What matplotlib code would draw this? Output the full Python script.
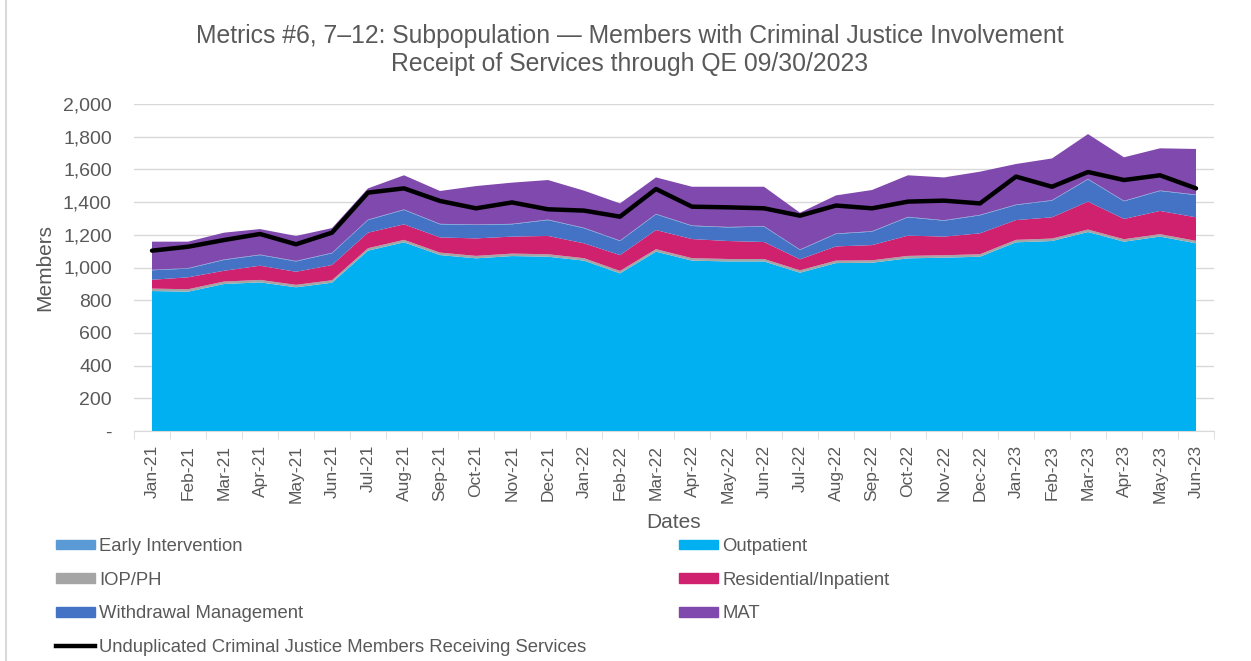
import numpy as np
import matplotlib.pyplot as plt
from matplotlib.lines import Line2D
from matplotlib.patches import Patch

plt.rcParams['font.family'] = ['Liberation Sans', 'DejaVu Sans']

months = ['Jan-21', 'Feb-21', 'Mar-21', 'Apr-21', 'May-21', 'Jun-21', 'Jul-21', 'Aug-21',
          'Sep-21', 'Oct-21', 'Nov-21', 'Dec-21', 'Jan-22', 'Feb-22', 'Mar-22', 'Apr-22',
          'May-22', 'Jun-22', 'Jul-22', 'Aug-22', 'Sep-22', 'Oct-22', 'Nov-22', 'Dec-22',
          'Jan-23', 'Feb-23', 'Mar-23', 'Apr-23', 'May-23', 'Jun-23']

outpatient = [856, 852, 899, 909, 879, 907, 1103, 1154, 1076, 1056, 1070, 1066, 1042, 964, 1097,
              1042, 1037, 1037, 968, 1027, 1029, 1056, 1060, 1066, 1154, 1162, 1217, 1158, 1189, 1148]
iop_ph = [15] * 30
residential = [54, 73, 66, 87, 80, 93, 95, 95, 93, 107, 104, 112, 91, 97, 117,
               117, 110, 104, 67, 87, 93, 124, 114, 128, 121, 130, 171, 124, 142, 144]
withdrawal = [58, 53, 66, 65, 63, 72, 77, 88, 80, 82, 75, 97, 92, 86, 96,
              80, 83, 94, 57, 76, 82, 112, 97, 110, 92, 102, 136, 108, 122, 136]
early_int = [3] * 30
mat = [172, 162, 164, 156, 153, 151, 191, 209, 201, 235, 252, 242, 227, 227, 223,
       237, 246, 241, 225, 233, 252, 254, 262, 264, 248, 255, 274, 266, 258, 279]
unduplicated = [1103, 1127, 1168, 1205, 1142, 1213, 1458, 1484, 1407, 1362, 1398, 1356, 1348, 1311, 1480,
                1372, 1368, 1362, 1317, 1379, 1362, 1403, 1409, 1392, 1556, 1494, 1584, 1535, 1564, 1484]

c_op = '#00B0F0'
c_iop = '#A5A5A5'
c_res = '#D0216F'
c_wm = '#4472C4'
c_ei = '#5B9BD5'
c_mat = '#8049AD'
txt = '#595959'

fig = plt.figure(figsize=(12.51, 6.61), dpi=100)
ax = fig.add_axes([134 / 1251, 1 - 431 / 661, 1080 / 1251, 327 / 661])

x = np.arange(len(months))
ax.stackplot(x, outpatient, iop_ph, residential, withdrawal, early_int, mat,
             colors=[c_op, c_iop, c_res, c_wm, c_ei, c_mat], linewidth=0, zorder=2)
ax.plot(x, unduplicated, color='black', lw=3.2, solid_capstyle='round', zorder=3)

ax.set_xlim(-0.5, len(months) - 0.5)
ax.set_ylim(0, 2000)
ax.set_yticks(range(0, 2001, 200))
ax.set_yticklabels(['-'] + [f'{v:,}' for v in range(200, 2001, 200)])
ax.set_xticks(x)
ax.set_xticklabels(months, rotation=90)
ax.set_xticks(np.arange(-0.5, len(months)), minor=True)
ax.tick_params(axis='x', which='major', length=0, pad=10, labelsize=12.5, labelcolor=txt)
ax.tick_params(axis='x', which='minor', length=6, color='#D9D9D9')
ax.tick_params(axis='y', length=0, pad=16, labelsize=14, labelcolor=txt)
ax.grid(axis='y', color='#D9D9D9', lw=1, zorder=0)
for s in ['top', 'right', 'left']:
    ax.spines[s].set_visible(False)
ax.spines['bottom'].set_color('#D9D9D9')

ax.set_xlabel('Dates', fontsize=15, color=txt, labelpad=7)
ax.set_ylabel('Members', fontsize=15, color=txt, labelpad=6)
fig.text(630 / 1251, 1 - 50 / 661, 'Metrics #6, 7\u201312: Subpopulation \u2014 Members with Criminal Justice Involvement\n'
         'Receipt of Services through QE 09/30/2023', ha='center', va='center',
         fontsize=17.8, color=txt, linespacing=1.25)

left_handles = [Patch(color=c_ei), Patch(color=c_iop), Patch(color=c_wm),
                Line2D([], [], color='black', lw=3.2)]
left_labels = ['Early Intervention', 'IOP/PH', 'Withdrawal Management',
               'Unduplicated Criminal Justice Members Receiving Services']
right_handles = [Patch(color=c_op), Patch(color=c_res), Patch(color=c_mat)]
right_labels = ['Outpatient', 'Residential/Inpatient', 'MAT']
leg_kw = dict(frameon=False, fontsize=13.3, labelcolor=txt, handlelength=2.1, handleheight=0.43,
              handletextpad=0.24, labelspacing=0.9, borderaxespad=0, borderpad=0)
fig.legend(left_handles, left_labels, loc='upper left', bbox_to_anchor=(56 / 1251, 1 - 538 / 661), **leg_kw)
fig.legend(right_handles, right_labels, loc='upper left', bbox_to_anchor=(679 / 1251, 1 - 538 / 661), **leg_kw)

fig.add_artist(Line2D([6 / 1251, 6 / 1251], [0, 1], color='#D9D9D9', lw=1.5))

fig.savefig('out.png', dpi=100)
